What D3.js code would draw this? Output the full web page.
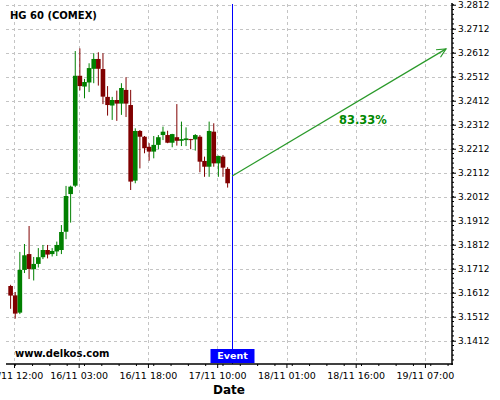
<!DOCTYPE html>
<html><head><meta charset="utf-8">
<script src="https://cdn.jsdelivr.net/npm/d3@7"></script>
<style>body{margin:0;background:#fff}svg{display:block}text{font-family:"DejaVu Sans",sans-serif}</style>
</head><body>
<svg id="c" width="500" height="400"></svg>
<script>
// candle index (hourly bars)
const idx = d3.range(1, 49);
const open  = [3.1640,3.1601,3.1529,3.1707,3.1773,3.1710,3.1732,3.1760,3.1790,3.1773,3.1784,3.1790,3.1866,3.2023,3.2058,3.2516,3.2471,3.2488,3.2545,3.2586,3.2544,3.2428,3.2392,3.2415,3.2400,3.2457,3.2394,3.2079,3.2286,3.2262,3.2220,3.2200,3.2228,3.2269,3.2269,3.2237,3.2260,3.2245,3.2248,3.2252,3.2251,3.2262,3.2161,3.2137,3.2283,3.2151,3.2179,3.2128];
const high  = [3.1645,3.1615,3.1782,3.1815,3.1890,3.1761,3.1798,3.1811,3.1811,3.1798,3.1825,3.1894,3.2057,3.2058,3.2619,3.2630,3.2503,3.2568,3.2610,3.2614,3.2610,3.2473,3.2428,3.2454,3.2485,3.2510,3.2457,3.2297,3.2290,3.2265,3.2235,3.2265,3.2269,3.2304,3.2287,3.2274,3.2398,3.2325,3.2301,3.2253,3.2273,3.2269,3.2179,3.2325,3.2318,3.2183,3.2186,3.2135];
const low   = [3.1545,3.1504,3.1523,3.1694,3.1669,3.1663,3.1717,3.1752,3.1755,3.1763,3.1765,3.1773,3.1835,3.1904,3.2052,3.2455,3.2422,3.2448,3.2485,3.2475,3.2398,3.2350,3.2332,3.2328,3.2353,3.2344,3.2040,3.2068,3.2130,3.2193,3.2162,3.2172,3.2210,3.2248,3.2235,3.2218,3.2225,3.2223,3.2223,3.2210,3.2204,3.2114,3.2095,3.2095,3.2137,3.2095,3.2095,3.2050];
const close = [3.1600,3.1525,3.1707,3.1768,3.1711,3.1732,3.1760,3.1790,3.1771,3.1786,3.1811,3.1865,3.2015,3.2054,3.2516,3.2473,3.2490,3.2548,3.2586,3.2545,3.2429,3.2394,3.2415,3.2400,3.2465,3.2400,3.2075,3.2286,3.2262,3.2214,3.2200,3.2228,3.2260,3.2283,3.2237,3.2273,3.2245,3.2252,3.2255,3.2248,3.2269,3.2158,3.2137,3.2286,3.2151,3.2182,3.2133,3.2068];

const xTickIdx    = [2, 16, 31, 46, 61, 76, 91];
const xTickLabels = ["15/11 12:00","16/11 03:00","16/11 18:00","17/11 10:00","18/11 01:00","18/11 16:00","19/11 07:00"];
const yTicks      = [3.1412,3.1512,3.1612,3.1712,3.1812,3.1912,3.2012,3.2112,3.2212,3.2312,3.2412,3.2512,3.2612,3.2712,3.2812];

const eventIdx = 49;
const arrowFrom = [49, 3.2098];
const arrowTo   = [95.3, 3.2628];
const pctLabel  = "83.33%";
const pctPos    = [77.3, 3.2332];

const L = 6, R = 452, T = 4, B = 364;
const svg = d3.select("#c");
const x = d3.scaleLinear().domain([0, 96.6]).range([L, R]);
const y = d3.scaleLinear().domain([3.1315, 3.2815]).range([B, T]);
const step = x(1) - x(0);

// grid
const grid = svg.append("g").attr("stroke", "#c4c4c4").attr("stroke-dasharray", "3,3").attr("stroke-width", 1);
grid.selectAll(".hg").data(yTicks).join("line")
  .attr("x1", L).attr("x2", R).attr("y1", d => Math.round(y(d)) + 0.5).attr("y2", d => Math.round(y(d)) + 0.5);
grid.selectAll(".vg").data(xTickIdx).join("line")
  .attr("y1", T).attr("y2", B).attr("x1", d => Math.round(x(d)) - 0.5).attr("x2", d => Math.round(x(d)) - 0.5);

// candles
const candles = idx.map((d, i) => ({i: d, o: open[i], h: high[i], l: low[i], c: close[i]}));
const col = d => d.c >= d.o ? "#008000" : "#800000";
const cg = svg.append("g");
cg.selectAll(".w").data(candles).join("line")
  .attr("x1", d => x(d.i)).attr("x2", d => x(d.i))
  .attr("y1", d => y(d.h)).attr("y2", d => y(d.l))
  .attr("stroke", col).attr("stroke-width", 1);
cg.selectAll(".b").data(candles).join("rect")
  .attr("x", d => x(d.i) - step / 2).attr("width", step)
  .attr("y", d => y(Math.max(d.o, d.c)))
  .attr("height", d => Math.max(1, Math.abs(y(d.o) - y(d.c))))
  .attr("fill", col);

// event line
const ex = Math.round(x(eventIdx)) + 0.5;
svg.append("line").attr("x1", ex).attr("x2", ex).attr("y1", T).attr("y2", B)
  .attr("stroke", "#0000ff").attr("stroke-width", 1);

// arrow
const ax1 = x(arrowFrom[0]), ay1 = y(arrowFrom[1]), ax2 = x(arrowTo[0]), ay2 = y(arrowTo[1]);
const ag = svg.append("g").attr("stroke", "#2a9a2a").attr("stroke-width", 1.2).attr("fill", "none");
ag.append("line").attr("x1", ax1).attr("y1", ay1).attr("x2", ax2).attr("y2", ay2);
const ang = Math.atan2(ay2 - ay1, ax2 - ax1), hl = 10, ha = 0.45;
ag.append("path").attr("d", `M${ax2 - hl*Math.cos(ang-ha)},${ay2 - hl*Math.sin(ang-ha)}L${ax2},${ay2}L${ax2 - hl*Math.cos(ang+ha)},${ay2 - hl*Math.sin(ang+ha)}`);
svg.append("text").attr("x", x(pctPos[0])).attr("y", y(pctPos[1])).attr("dy", "0.35em")
  .attr("text-anchor", "middle").attr("font-size", 11.5).attr("font-weight", "bold").attr("fill", "#008800").text(pctLabel);

// right axis
const yAxis = d3.axisRight(y).tickValues(yTicks).tickSize(4).tickPadding(2).tickFormat(d3.format(".4f"));
const ya = svg.append("g").attr("transform", `translate(${R},0)`).call(yAxis);
ya.select(".domain").remove();
ya.selectAll("text").attr("font-size", 9).attr("fill", "#000").attr("font-family", "DejaVu Sans");
const yMinor = d3.range(0, 76).map(k => 3.1312 + k * 0.002).filter(v => v >= 3.1315 && v <= 3.2815);
svg.append("g").selectAll("line").data(yMinor).join("line")
  .attr("x1", R).attr("x2", R + 2).attr("y1", d => y(d)).attr("y2", d => y(d)).attr("stroke", "#000");
svg.append("line").attr("x1", R).attr("x2", R).attr("y1", T - 1).attr("y2", B + 1).attr("stroke", "#000").attr("stroke-width", 1.5);

// bottom axis
const xAxis = d3.axisBottom(x).tickValues(xTickIdx).tickSize(4).tickPadding(4).tickFormat((d, i) => xTickLabels[i]);
const xa = svg.append("g").attr("transform", `translate(-1.2,${B})`).call(xAxis);
xa.select(".domain").remove();
xa.selectAll("text").attr("font-size", 9.5).attr("fill", "#000").attr("font-family", "DejaVu Sans");
const xMinor = d3.range(-1, 26).map(k => 2 + k * 3.75).filter(v => v > 0 && v < 96.6);
svg.append("g").selectAll("line").data(xMinor).join("line")
  .attr("x1", d => x(d)).attr("x2", d => x(d)).attr("y1", B).attr("y2", B + 2).attr("stroke", "#000");
svg.append("line").attr("x1", L).attr("x2", R + 1).attr("y1", B).attr("y2", B).attr("stroke", "#000").attr("stroke-width", 1.5);

// event box
svg.append("rect").attr("x", ex - 22).attr("y", B - 15).attr("width", 44).attr("height", 14).attr("fill", "#0000ff");
svg.append("text").attr("x", ex).attr("y", B - 8).attr("dy", "0.35em").attr("text-anchor", "middle")
  .attr("font-size", 9.5).attr("font-weight", "bold").attr("fill", "#fff").text("Event");

// texts
svg.append("text").attr("x", 10).attr("y", 19).attr("font-size", 10).attr("font-weight", "bold").text("HG 60 (COMEX)");
svg.append("text").attr("x", 15).attr("y", 357).attr("font-size", 10).attr("font-weight", "bold").text("www.delkos.com");
svg.append("text").attr("x", (L + R) / 2).attr("y", 394).attr("text-anchor", "middle").attr("font-size", 12).attr("font-weight", "bold").text("Date");
</script>
</body></html>
